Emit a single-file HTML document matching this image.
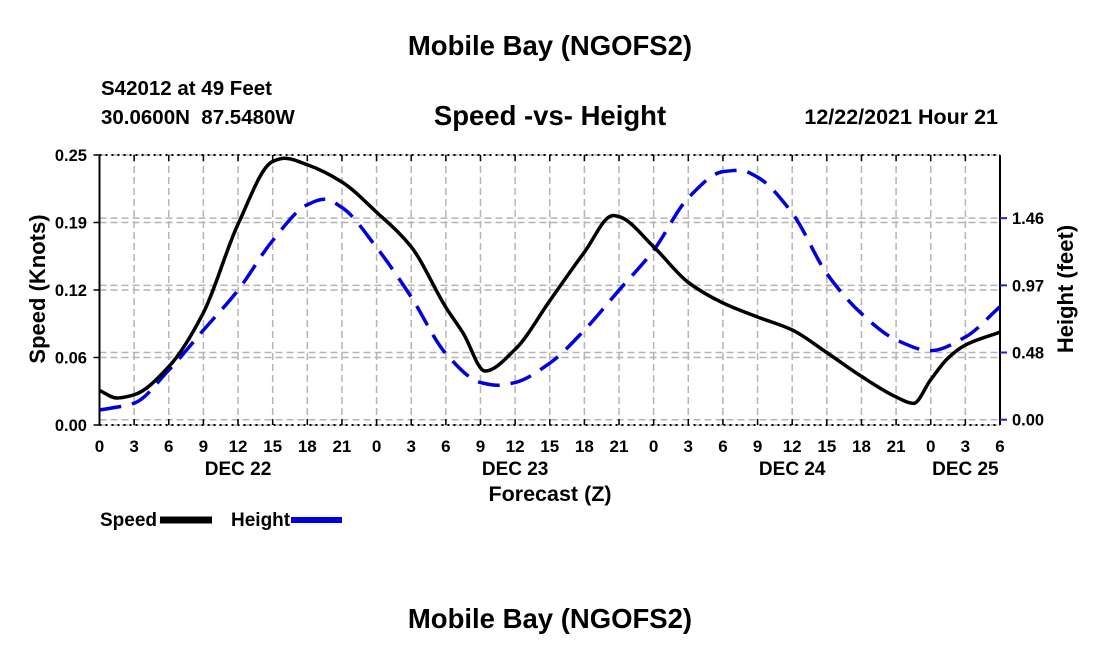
<!DOCTYPE html>
<html><head><meta charset="utf-8"><style>
body{margin:0;background:#fff;}
svg text{font-family:"Liberation Sans",sans-serif;font-weight:bold;fill:#000;white-space:pre;}
</style></head><body>
<svg id="chart" width="1100" height="650" viewBox="0 0 1100 650" xmlns="http://www.w3.org/2000/svg" xml:space="preserve">
<rect width="1100" height="650" fill="#fff"/>
<text x="550" y="55" font-size="27.5" text-anchor="middle">Mobile Bay (NGOFS2)</text>
<text x="101" y="95" font-size="20.5">S42012 at 49 Feet</text>
<text x="101" y="124" font-size="20.5">30.0600N  87.5480W</text>
<text x="550" y="125" font-size="27.5" text-anchor="middle">Speed -vs- Height</text>
<text x="998" y="124" font-size="21.5" text-anchor="end">12/22/2021 Hour 21</text>
<text x="550" y="628" font-size="27.5" text-anchor="middle">Mobile Bay (NGOFS2)</text>
<g id="grid"></g>
<g id="axes"></g>
<g id="series"></g>
<text transform="translate(45,289) rotate(-90)" font-size="22" text-anchor="middle">Speed (Knots)</text>
<text transform="translate(1073,289) rotate(-90)" font-size="22" text-anchor="middle">Height (feet)</text>
<text x="550" y="501" font-size="21.5" text-anchor="middle">Forecast (Z)</text>
<g>
<text x="100" y="526" font-size="19">Speed</text>
<line x1="160" y1="520" x2="212" y2="520" stroke="#000" stroke-width="7"/>
<text x="231" y="526" font-size="19">Height</text>
<line x1="291" y1="520" x2="342" y2="520" stroke="#0000dd" stroke-width="6"/>
</g>
</svg>
<script>
const speedHours=[0,1.5,3,6,9,12,15,16,18,21,24,27,30,31.5,33.4,36,39,42,44.5,45,48,51,54,57,60,63,66,69,70.5,72,73.5,75,78];
const speedVals=[0.032,0.025,0.028,0.054,0.104,0.186,0.244,0.247,0.241,0.225,0.197,0.165,0.109,0.085,0.05,0.07,0.115,0.16,0.194,0.193,0.165,0.132,0.113,0.1,0.088,0.067,0.045,0.026,0.02,0.042,0.062,0.074,0.086];
const heightHours=[0,3,6,9,12,15,18,19.5,21,24,27,30,33,34.5,36,39,42,45,48,51,54,55.5,57,60,63,66,69,72,75,78];
const heightVals=[0.07,0.12,0.36,0.65,0.94,1.30,1.56,1.60,1.54,1.25,0.89,0.48,0.27,0.25,0.27,0.41,0.65,0.94,1.23,1.61,1.80,1.81,1.76,1.50,1.06,0.77,0.58,0.50,0.60,0.82];
const xTickLabels=["0","3","6","9","12","15","18","21","0","3","6","9","12","15","18","21","0","3","6","9","12","15","18","21","0","3","6"];
const dayLabels=["DEC 22","DEC 23","DEC 24","DEC 25"];
const dayHours=[12,36,60,75];
const speedTicks=[0,0.0625,0.125,0.1875,0.25];
const speedTickLabels=["0.00","0.06","0.12","0.19","0.25"];
const heightTicks=[0,0.4875,0.975,1.4625];
const heightTickLabels=["0.00","0.48","0.97","1.46"];

const L=99.5,R=1000,T=155,B=425;
const x=h=>L+(R-L)*h/78;
const yS=v=>B-(B-T)*v/0.25;
const yH=v=>419.7-137.8*v;
const NS="http://www.w3.org/2000/svg";
function mk(tag,attrs,parent){const e=document.createElementNS(NS,tag);for(const k in attrs)e.setAttribute(k,attrs[k]);parent.appendChild(e);return e;}
const grid=document.getElementById('grid'),axes=document.getElementById('axes'),series=document.getElementById('series');
const gs={stroke:"#b4b4b4","stroke-width":1.5,"stroke-dasharray":"7 4"};
for(let i=0;i<=26;i++){const l=mk('line',Object.assign({x1:x(i*3),x2:x(i*3),y1:T,y2:B},gs),grid);

}
speedTicks.forEach(v=>{const l=mk('line',Object.assign({x1:L,x2:R,y1:yS(v),y2:yS(v)},gs),grid);

});
heightTicks.forEach(v=>{const l=mk('line',Object.assign({x1:L,x2:R,y1:yH(v),y2:yH(v)},gs),grid);

});
mk('line',{x1:L,x2:L,y1:T,y2:B,stroke:"#000","stroke-width":2},axes);
mk('line',{x1:R,x2:R,y1:T,y2:B,stroke:"#000","stroke-width":2},axes);
mk('line',{x1:L,x2:R,y1:T,y2:T,stroke:"#000","stroke-width":2,"stroke-dasharray":"2 4"},axes);
mk('line',{x1:L,x2:R,y1:B,y2:B,stroke:"#000","stroke-width":2,"stroke-dasharray":"2 4"},axes);
for(let i=0;i<=26;i++){
 mk('line',{x1:x(i*3),x2:x(i*3),y1:B,y2:B-6,stroke:"#000","stroke-width":1.5},axes);
 mk('line',{x1:x(i*3),x2:x(i*3),y1:T,y2:T+6,stroke:"#000","stroke-width":1.5},axes);
 const t=mk('text',{x:x(i*3),y:452,"font-size":17,"text-anchor":"middle"},axes);t.textContent=xTickLabels[i];
 
 
}
dayLabels.forEach((d,i)=>{const t=mk('text',{x:x(dayHours[i]),y:475,"font-size":19,"text-anchor":"middle"},axes);t.textContent=d;

});
speedTicks.forEach((v,i)=>{mk('line',{x1:L,x2:L-6,y1:yS(v),y2:yS(v),stroke:"#000","stroke-width":1.5},axes);
const t=mk('text',{x:87,y:yS(v)+6,"font-size":16.5,"text-anchor":"end"},axes);t.textContent=speedTickLabels[i];

});
heightTicks.forEach((v,i)=>{mk('line',{x1:R,x2:R+7,y1:yH(v),y2:yH(v),stroke:"#2222cc","stroke-width":2},axes);
const t=mk('text',{x:1012,y:yH(v)+6,"font-size":16.5},axes);t.textContent=heightTickLabels[i];

});
function curve(hs,vs,yf){const px=hs.map(x),py=vs.map(yf),n=px.length;
const d=[],m=[];for(let i=0;i<n-1;i++)d.push((py[i+1]-py[i])/(px[i+1]-px[i]));
m[0]=d[0];m[n-1]=d[n-2];
for(let i=1;i<n-1;i++){if(d[i-1]*d[i]<=0)m[i]=0;else{const h0=px[i]-px[i-1],h1=px[i+1]-px[i];const w1=2*h1+h0,w2=h1+2*h0;m[i]=(w1+w2)/(w1/d[i-1]+w2/d[i]);}}
let s=`M${px[0]},${py[0]}`;
for(let i=0;i<n-1;i++){const h=(px[i+1]-px[i])/3;s+=` C${px[i]+h},${py[i]+m[i]*h} ${px[i+1]-h},${py[i+1]-m[i+1]*h} ${px[i+1]},${py[i+1]}`;}
return s;}
const hp=mk('path',{d:curve(heightHours,heightVals,yH),fill:"none",stroke:"#0000dd","stroke-width":3.5,"stroke-dasharray":"22 11"},series);


const sp=mk('path',{d:curve(speedHours,speedVals,yS),fill:"none",stroke:"#000","stroke-width":3.5},series);


</script>
</body></html>
